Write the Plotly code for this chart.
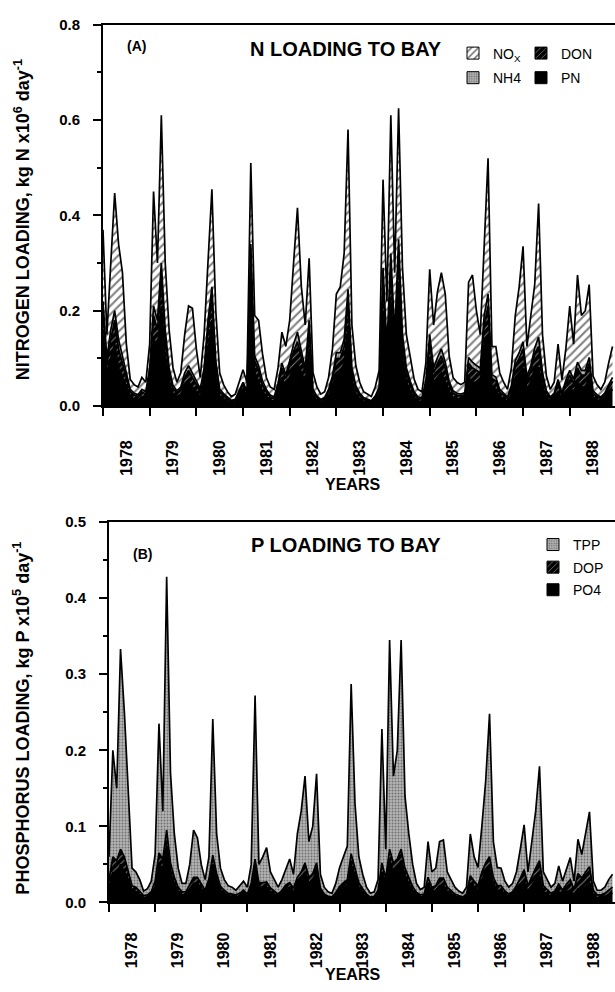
import plotly.graph_objects as go

W, H = 615, 992

# ---------------- data (monthly, Jan 1978 .. Dec 1988) ----------------
months = [1978 + i / 12 for i in range(132)]
year_ticks = list(range(1978, 1989))
year_labels = [str(y) for y in year_ticks]

# N loading, kg N x10^6 / day
PN = [0.15,0.07,0.10,0.13,0.08,0.06,0.04,0.02,0.015,0.012,
      0.02,0.015,0.05,0.14,0.12,0.21,0.10,0.05,0.025,0.02,
      0.025,0.04,0.05,0.04,0.03,0.02,0.05,0.12,0.18,0.06,
      0.02,0.015,0.01,0.006,0.008,0.02,0.035,0.02,0.25,0.07,
      0.05,0.03,0.02,0.012,0.01,0.03,0.06,0.04,0.06,0.08,
      0.09,0.07,0.05,0.12,0.02,0.012,0.008,0.01,0.02,0.04,
      0.07,0.07,0.09,0.16,0.05,0.025,0.015,0.01,0.008,0.006,
      0.012,0.025,0.20,0.08,0.22,0.10,0.25,0.10,0.05,0.03,
      0.018,0.01,0.01,0.035,0.10,0.05,0.06,0.07,0.05,0.03,
      0.018,0.015,0.014,0.016,0.06,0.05,0.05,0.05,0.13,0.15,
      0.04,0.035,0.02,0.015,0.01,0.025,0.06,0.07,0.08,0.035,
      0.05,0.08,0.08,0.04,0.018,0.01,0.015,0.03,0.015,0.03,
      0.04,0.03,0.05,0.04,0.04,0.06,0.018,0.013,0.01,0.015,
      0.025,0.035]
DON = [0.05,0.02,0.04,0.05,0.04,0.03,0.02,0.01,0.008,0.008,
       0.01,0.01,0.02,0.05,0.04,0.06,0.04,0.02,0.012,0.008,
       0.01,0.02,0.025,0.02,0.015,0.01,0.02,0.04,0.05,0.025,
       0.01,0.007,0.005,0.004,0.004,0.008,0.01,0.008,0.06,0.025,
       0.025,0.015,0.01,0.007,0.006,0.012,0.02,0.018,0.025,0.035,
       0.045,0.03,0.02,0.04,0.01,0.006,0.004,0.005,0.01,0.015,
       0.03,0.03,0.035,0.06,0.02,0.012,0.008,0.005,0.004,0.003,
       0.006,0.01,0.06,0.03,0.07,0.035,0.07,0.035,0.02,0.015,
       0.008,0.006,0.005,0.012,0.035,0.02,0.03,0.035,0.03,0.015,
       0.009,0.008,0.007,0.008,0.03,0.03,0.025,0.02,0.04,0.06,
       0.018,0.018,0.01,0.008,0.006,0.012,0.025,0.03,0.04,0.018,
       0.025,0.03,0.045,0.02,0.009,0.006,0.008,0.018,0.008,0.016,
       0.025,0.018,0.03,0.025,0.025,0.03,0.009,0.007,0.006,0.008,
       0.012,0.017]
NH4 = [0.02,0.01,0.02,0.02,0.02,0.015,0.01,0.005,0.004,0.004,
       0.005,0.005,0.01,0.02,0.02,0.03,0.02,0.01,0.006,0.004,
       0.005,0.01,0.01,0.01,0.008,0.005,0.01,0.02,0.02,0.01,
       0.005,0.004,0.003,0.002,0.002,0.004,0.005,0.004,0.03,0.01,
       0.01,0.008,0.005,0.004,0.003,0.006,0.01,0.008,0.01,0.015,
       0.02,0.015,0.01,0.02,0.005,0.003,0.002,0.003,0.005,0.008,
       0.012,0.012,0.015,0.025,0.01,0.006,0.004,0.003,0.002,0.002,
       0.003,0.005,0.03,0.015,0.03,0.015,0.03,0.015,0.01,0.007,
       0.004,0.003,0.003,0.006,0.015,0.01,0.012,0.015,0.012,0.007,
       0.005,0.004,0.004,0.004,0.012,0.012,0.01,0.01,0.02,0.025,
       0.008,0.008,0.005,0.004,0.003,0.006,0.01,0.012,0.015,0.008,
       0.01,0.012,0.02,0.01,0.005,0.003,0.004,0.008,0.004,0.008,
       0.01,0.008,0.012,0.01,0.01,0.012,0.005,0.004,0.003,0.004,
       0.006,0.008]
NOX = [0.15,0.05,0.14,0.247,0.20,0.175,0.06,0.021,0.018,0.016,
       0.025,0.02,0.05,0.24,0.12,0.31,0.14,0.08,0.037,0.018,
       0.03,0.08,0.125,0.135,0.067,0.025,0.07,0.12,0.205,0.105,
       0.035,0.019,0.012,0.008,0.011,0.018,0.026,0.018,0.17,0.085,
       0.095,0.057,0.025,0.017,0.016,0.032,0.065,0.059,0.085,0.17,
       0.261,0.135,0.09,0.13,0.035,0.019,0.011,0.012,0.025,0.057,
       0.123,0.138,0.18,0.335,0.09,0.042,0.023,0.012,0.011,0.009,
       0.019,0.035,0.185,0.095,0.29,0.13,0.275,0.14,0.07,0.048,
       0.026,0.016,0.012,0.037,0.137,0.09,0.138,0.16,0.143,0.053,
       0.028,0.023,0.02,0.022,0.158,0.183,0.115,0.07,0.16,0.285,
       0.059,0.064,0.035,0.023,0.016,0.037,0.095,0.138,0.2,0.064,
       0.105,0.133,0.28,0.08,0.031,0.016,0.023,0.074,0.028,0.066,
       0.135,0.074,0.183,0.115,0.125,0.153,0.031,0.021,0.016,0.023,
       0.047,0.065]

# P loading, kg P x10^5 / day
PO4 = [0.02,0.04,0.035,0.05,0.04,0.03,0.015,0.014,0.01,0.006,
       0.007,0.01,0.02,0.05,0.045,0.075,0.04,0.025,0.015,0.01,
       0.01,0.018,0.025,0.025,0.018,0.012,0.025,0.05,0.03,0.016,
       0.012,0.009,0.008,0.007,0.009,0.012,0.008,0.02,0.045,0.02,
       0.02,0.02,0.014,0.011,0.008,0.012,0.018,0.02,0.014,0.025,
       0.03,0.04,0.025,0.03,0.04,0.014,0.008,0.006,0.005,0.01,
       0.016,0.02,0.022,0.05,0.035,0.02,0.014,0.008,0.005,0.006,
       0.012,0.04,0.025,0.055,0.04,0.045,0.055,0.035,0.025,0.016,
       0.01,0.007,0.008,0.025,0.015,0.016,0.022,0.022,0.014,0.011,
       0.008,0.006,0.005,0.008,0.025,0.02,0.016,0.03,0.04,0.045,
       0.025,0.016,0.016,0.011,0.008,0.01,0.014,0.02,0.028,0.014,
       0.022,0.03,0.035,0.014,0.011,0.008,0.01,0.014,0.01,0.014,
       0.016,0.01,0.018,0.016,0.02,0.025,0.01,0.006,0.006,0.008,
       0.01,0.012]
DOP = [0.01,0.02,0.02,0.02,0.02,0.012,0.007,0.006,0.005,0.003,
       0.003,0.004,0.008,0.015,0.012,0.02,0.012,0.008,0.005,0.004,
       0.004,0.006,0.008,0.008,0.006,0.004,0.006,0.012,0.008,0.005,
       0.004,0.003,0.003,0.003,0.003,0.004,0.003,0.005,0.012,0.006,
       0.006,0.007,0.005,0.004,0.003,0.004,0.005,0.006,0.005,0.008,
       0.01,0.012,0.008,0.008,0.012,0.005,0.003,0.002,0.002,0.003,
       0.005,0.006,0.008,0.014,0.01,0.006,0.004,0.003,0.002,0.002,
       0.004,0.012,0.007,0.015,0.012,0.012,0.015,0.01,0.008,0.005,
       0.003,0.003,0.003,0.008,0.005,0.006,0.01,0.01,0.006,0.005,
       0.003,0.003,0.002,0.003,0.01,0.008,0.006,0.01,0.012,0.015,
       0.008,0.006,0.006,0.004,0.003,0.004,0.008,0.012,0.015,0.008,
       0.012,0.015,0.02,0.008,0.006,0.004,0.005,0.01,0.006,0.01,
       0.014,0.007,0.02,0.016,0.02,0.022,0.006,0.004,0.004,0.004,
       0.006,0.008]
TPP = [0.03,0.14,0.095,0.263,0.19,0.108,0.023,0.02,0.015,0.006,
       0.008,0.014,0.035,0.17,0.063,0.333,0.118,0.057,0.025,0.011,
       0.011,0.026,0.062,0.052,0.026,0.014,0.029,0.179,0.052,0.024,
       0.014,0.01,0.009,0.006,0.01,0.012,0.009,0.025,0.215,0.024,
       0.034,0.045,0.021,0.015,0.009,0.014,0.022,0.031,0.018,0.057,
       0.08,0.114,0.047,0.062,0.117,0.018,0.009,0.006,0.005,0.012,
       0.025,0.034,0.044,0.223,0.085,0.034,0.019,0.009,0.005,0.006,
       0.014,0.176,0.038,0.275,0.114,0.143,0.275,0.095,0.057,0.029,
       0.012,0.007,0.009,0.047,0.02,0.023,0.048,0.05,0.02,0.014,
       0.009,0.006,0.005,0.009,0.055,0.032,0.024,0.06,0.108,0.188,
       0.047,0.024,0.023,0.013,0.009,0.011,0.018,0.038,0.059,0.018,
       0.046,0.075,0.124,0.018,0.013,0.008,0.01,0.024,0.012,0.021,
       0.029,0.011,0.045,0.031,0.05,0.072,0.012,0.006,0.006,0.008,
       0.014,0.017]

# ---------------- styles ----------------
FONT = "Liberation Sans, Arial, sans-serif"
HATCH = dict(shape="/", bgcolor="white", fgcolor="black", size=6, solidity=0.35)
DARK = dict(shape="/", bgcolor="black", fgcolor="white", size=5, solidity=0.2)
STIP = dict(shape=".", bgcolor="#b5b5b5", fgcolor="#2a2a2a", size=3, solidity=0.35)
SOLID = dict(shape="", bgcolor="black", fgcolor="black")
LW = 1.7


def px(x):
    return x / W


def py(y):
    return 1 - y / H


fig = go.Figure()

top_layers = [("PN", PN, SOLID), ("DON", DON, DARK), ("NH4", NH4, STIP), ("NOx", NOX, HATCH)]
for name, vals, pat in top_layers:
    kw = dict(fillcolor="black") if pat is SOLID else dict(fillpattern=pat, fillcolor=pat["bgcolor"])
    fig.add_trace(go.Scatter(x=months, y=vals, stackgroup="n", mode="lines", name=name,
                             line=dict(color="black", width=LW), showlegend=False,
                             xaxis="x", yaxis="y", **kw))

bot_layers = [("PO4", PO4, SOLID), ("DOP", DOP, DARK), ("TPP", TPP, STIP)]
for name, vals, pat in bot_layers:
    kw = dict(fillcolor="black") if pat is SOLID else dict(fillpattern=pat, fillcolor=pat["bgcolor"])
    fig.add_trace(go.Scatter(x=months, y=vals, stackgroup="p", mode="lines", name=name,
                             line=dict(color="black", width=LW), showlegend=False,
                             xaxis="x2", yaxis="y2", **kw))

# empty traces so the overlaying label axes get drawn
for xa, ya in (("x3", "y"), ("x4", "y2")):
    fig.add_trace(go.Scatter(x=[None], y=[None], mode="markers", xaxis=xa, yaxis=ya,
                             showlegend=False, hoverinfo="skip"))


# legend proxies (square swatches), one legend per entry for exact placement
def proxy(name, pat, legend, xa, ya):
    if pat is SOLID:
        marker = dict(color="black", line=dict(color="black", width=1))
    else:
        marker = dict(color=pat["bgcolor"], pattern=pat, line=dict(color="black", width=1))
    fig.add_trace(go.Bar(x=[None], y=[None], name=name, marker=marker, legend=legend,
                         xaxis=xa, yaxis=ya))


legend_entries = [
    ("NO<sub>X</sub>", HATCH, "legend", "x", "y", 453, 43),
    ("NH4", STIP, "legend2", "x", "y", 453, 68),
    ("DON", DARK, "legend3", "x", "y", 521, 43),
    ("PN", SOLID, "legend4", "x", "y", 521, 68),
    ("TPP", STIP, "legend5", "x2", "y2", 533, 543),
    ("DOP", DARK, "legend6", "x2", "y2", 533, 566),
    ("PO4", SOLID, "legend7", "x2", "y2", 533, 589),
]
leg_layout = {}
for name, pat, lg, xa, ya, lx, ly in legend_entries:
    proxy(name, pat, lg, xa, ya)
    leg_layout[lg] = dict(x=px(lx), y=py(ly - 14), xanchor="left", yanchor="top",
                          font=dict(family=FONT, size=14, color="black"),
                          bgcolor="rgba(0,0,0,0)", itemwidth=30, orientation="v")

xr = [1978, 1988.97]


def xaxis(domain, anchor):
    # year-boundary tick marks, no labels
    return dict(domain=domain, anchor=anchor, range=xr, showgrid=False, zeroline=False,
                showline=True, linecolor="black", linewidth=2, mirror=True,
                tickmode="array", tickvals=year_ticks, showticklabels=False,
                ticks="outside", ticklen=8, tickwidth=2, tickcolor="black")


def xlabels(over, anchor, standoff):
    # mid-year labels on an overlaying axis
    return dict(overlaying=over, anchor=anchor, side="bottom", range=xr, showgrid=False,
                zeroline=False, showline=False, tickmode="array",
                tickvals=[y + 0.5 for y in year_ticks], ticktext=year_labels,
                ticks="", tickangle=-90, ticklabelstandoff=standoff,
                tickfont=dict(family=FONT, size=16, color="black", weight="bold"))


def yaxis(domain, anchor, rng, dtick):
    return dict(domain=domain, anchor=anchor, range=rng, showgrid=False, zeroline=False,
                showline=True, linecolor="black", linewidth=2,
                tickmode="linear", tick0=0, dtick=dtick, tickformat=".1f",
                ticks="outside", ticklen=8, tickwidth=2, tickcolor="black",
                ticklabelstandoff=10,
                tickfont=dict(family=FONT, size=15, color="black", weight="bold"),
                minor=dict(dtick=dtick / 2, ticks="outside", ticklen=4, tickwidth=2,
                           tickcolor="black"))


fig.update_layout(
    width=W, height=H, margin=dict(l=0, r=0, t=0, b=0),
    paper_bgcolor="white", plot_bgcolor="white", showlegend=True,
    xaxis=xaxis([px(103), 1.0], "y"),
    yaxis=yaxis([py(404), py(16)], "x", [0, 0.8], 0.2),
    xaxis2=xaxis([px(109), 1.0], "y2"),
    yaxis2=yaxis([py(909), py(522)], "x2", [0, 0.5], 0.1),
    xaxis3=xlabels("x", "y", 30),
    xaxis4=xlabels("x2", "y2", 26),
    **leg_layout,
)

ann = [
    dict(x=px(346), y=py(41), text="<b>N LOADING TO BAY</b>", size=20),
    dict(x=px(136), y=py(38), text="<b>(A)</b>", size=14),
    dict(x=px(346), y=py(545), text="<b>P LOADING TO BAY</b>", size=20),
    dict(x=px(142), y=py(555), text="<b>(B)</b>", size=14),
    dict(x=px(352), y=py(484), text="<b>YEARS</b>", size=16),
    dict(x=px(352), y=py(982), text="<b>YEARS</b>", size=16),
]
for a in ann:
    fig.add_annotation(x=a["x"], y=a["y"], xref="paper", yref="paper", text=a["text"],
                       showarrow=False, xanchor="center", yanchor="middle",
                       font=dict(family=FONT, size=a["size"], color="black"))

fig.add_annotation(x=px(22), y=py(215), xref="paper", yref="paper", textangle=-90,
                   xanchor="center", yanchor="middle",
                   text="<b>NITROGEN LOADING, kg N x10<sup>6</sup> day<sup>-1</sup></b>",
                   showarrow=False, font=dict(family=FONT, size=18, color="black"))
fig.add_annotation(x=px(22), y=py(722), xref="paper", yref="paper", textangle=-90,
                   xanchor="center", yanchor="middle",
                   text="<b>PHOSPHORUS LOADING, kg P x10<sup>5</sup> day<sup>-1</sup></b>",
                   showarrow=False, font=dict(family=FONT, size=18, color="black"))

fig.write_html("out.html")
